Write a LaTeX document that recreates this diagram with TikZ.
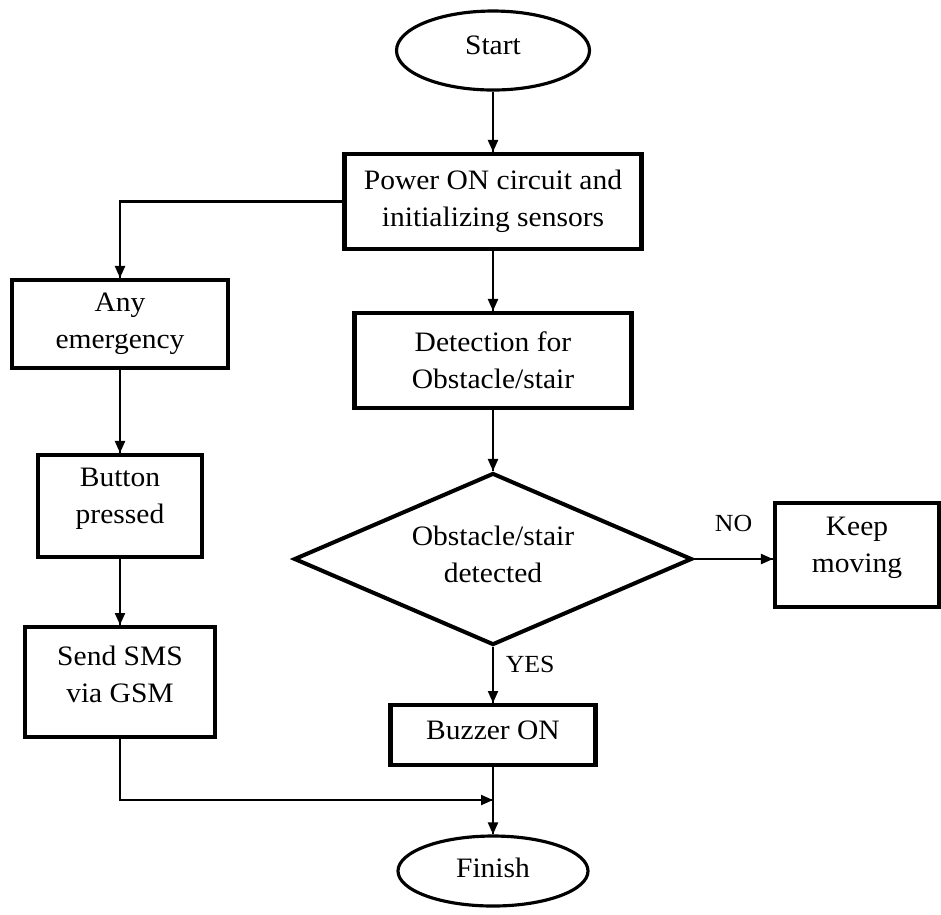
\documentclass[tikz,border=0pt]{standalone}
\usepackage{fontspec}
\setmainfont[FakeStretch=1.05]{Liberation Serif}
\usetikzlibrary{arrows.meta}
\usetikzlibrary{decorations.markings}
\usetikzlibrary{shapes.geometric}
\tikzset{arr/.style = {line width=0.6pt,
                       decoration={markings,
                                   mark=at position 1 with {\arrow{Triangle[length=1.2mm,width=1mm]}}},
                       postaction={decorate}}}
\tikzset{box/.style = {draw, rectangle, line width=1.15pt, align=center, inner sep=0pt},
         term/.style = {draw, ellipse, line width=0.9pt, inner sep=0pt},
         decide/.style = {draw, diamond, line width=1.15pt, align=center, inner sep=0pt},
         every label/.style = {align=center}}

\begin{document}
\begin{tikzpicture}[font=\fontsize{8pt}{10.5pt}\selectfont]
    \useasboundingbox (0,0) rectangle (9.41,-9.14);

    \node[term, minimum width=1.93cm, minimum height=0.79cm,
          label={[yshift=0.055cm]center:Start}] (start) at (4.93,-0.505) {};
    \node[box, minimum width=2.97cm, minimum height=0.95cm] (power) at (4.93,-2.015)
        {Power ON circuit and\\initializing sensors};
    \node[box, minimum width=2.77cm, minimum height=0.95cm] (detect) at (4.93,-3.605)
        {Detection for\\Obstacle/stair};
    \node[decide, minimum width=3.98cm, minimum height=1.72cm,
          label={[yshift=0.05cm]center:Obstacle/stair\\detected}] (decide) at (4.93,-5.59) {};
    \node[box, minimum width=1.64cm, minimum height=1.04cm,
          label={[yshift=0.07cm]center:Keep\\moving}] (keep) at (8.57,-5.55) {};
    \node[box, minimum width=2.05cm, minimum height=0.60cm,
          label={[yshift=0.05cm]center:Buzzer ON}] (buzzer) at (4.93,-7.35) {};
    \node[term, minimum width=1.90cm, minimum height=0.70cm,
          label={[yshift=0.03cm]center:Finish}] (finish) at (4.93,-8.71) {};

    \node[box, minimum width=2.16cm, minimum height=0.88cm] (emerg) at (1.20,-3.24)
        {Any\\emergency};
    \node[box, minimum width=1.64cm, minimum height=1.02cm,
          label={[yshift=0.07cm]center:Button\\pressed}] (button) at (1.20,-5.06) {};
    \node[box, minimum width=1.90cm, minimum height=1.10cm,
          label={[yshift=0.08cm]center:Send SMS\\via GSM}] (send) at (1.20,-6.82) {};

    \coordinate (join) at (4.93,-8.00);

    \draw[arr] (start) -- (power);
    \draw[arr] (power) -- (detect);
    \draw[arr] (detect) -- (decide);
    \draw[arr] (decide.east) -- (decide.east -| keep.west)
        node[midway, above=0.15cm, font=\fontsize{7pt}{8pt}\selectfont] {NO};
    \draw[arr] (decide.south) -- (buzzer.north)
        node[pos=0.32, right, font=\fontsize{7pt}{8pt}\selectfont] {YES};
    \draw[arr] (buzzer) -- (finish);

    \draw[arr] (power.west) -| (emerg.north);
    \draw[arr] (emerg) -- (button);
    \draw[arr] (button) -- (send);
    \draw[arr] (send.south) |- (join);
\end{tikzpicture}
\end{document}
